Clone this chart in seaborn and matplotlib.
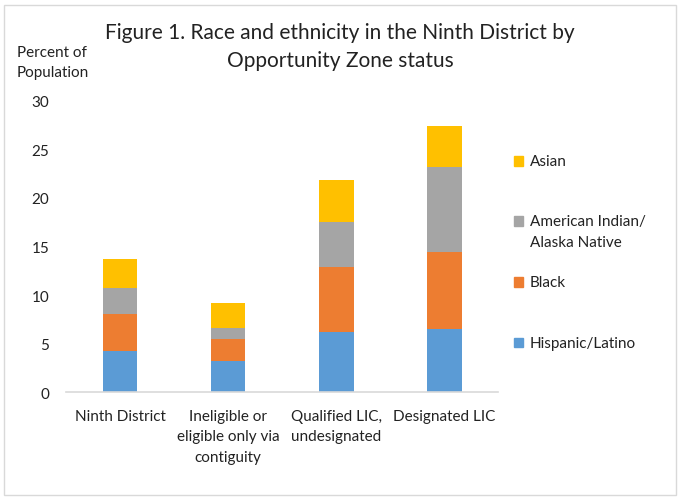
import matplotlib

matplotlib.use("Agg")
import matplotlib.pyplot as plt
import numpy as np
import pandas as pd
import seaborn as sns
from matplotlib.patches import Rectangle

# values (percent of population)
categories = [
    "Ninth District",
    "Ineligible or\neligible only via\ncontiguity",
    "Qualified LIC,\nundesignated",
    "Designated LIC",
]
hispanic = [4.2, 3.2, 6.2, 6.5]
black = [3.8, 2.25, 6.65, 7.9]
american_indian = [2.7, 1.2, 4.65, 8.8]
asian = [3.05, 2.55, 4.3, 4.2]

series = ["Hispanic/Latino", "Black", "American Indian/\nAlaska Native", "Asian"]
colors = ["#5B9BD5", "#ED7D31", "#A5A5A5", "#FFC000"]

sns.set_style("white")
plt.rcParams["font.family"] = ["Lato", "DejaVu Sans"]
text_color = "#222222"

df = pd.DataFrame({"category": categories})
stack = np.cumsum(np.array([hispanic, black, american_indian, asian]), axis=0)

fig = plt.figure(figsize=(6.8, 5.02), dpi=100)
ax = fig.add_axes([0.097, 0.217, 0.636, 0.58])

# stacked bars: draw cumulative totals from the top segment down
for i in range(len(series) - 1, -1, -1):
    df["value"] = stack[i]
    sns.barplot(data=df, x="category", y="value", color=colors[i],
                width=0.32, saturation=1, linewidth=0, ax=ax)

ax.set_ylim(0, 30)
ax.set_yticks(range(0, 31, 5))
ax.set_xlabel("")
ax.set_ylabel("")
sns.despine(ax=ax, left=True)
ax.spines["bottom"].set_color("#D9D9D9")
ax.spines["bottom"].set_linewidth(1.2)
ax.tick_params(axis="both", length=0, labelsize=11, colors=text_color)
ax.tick_params(axis="y", pad=12)
ax.tick_params(axis="x", pad=12)
for lbl in ax.get_xticklabels():
    lbl.set_linespacing(1.6)

fig.text(0.5, 0.955, "Figure 1. Race and ethnicity in the Ninth District by\nOpportunity Zone status",
         ha="center", va="top", fontsize=15, color=text_color, linespacing=1.5)
fig.text(0.025, 0.908, "Percent of\nPopulation", ha="left", va="top",
         fontsize=11, color=text_color, linespacing=1.55)

# legend, top entry first as in the original
legend_y = [161.7, 221.7, 282.7, 343.3]
for name, col, ypix in zip(series[::-1], colors[::-1], legend_y):
    yf = 1 - ypix / 502
    fig.add_artist(Rectangle((514 / 680, yf - 0.010), 0.0135, 0.0185,
                             transform=fig.transFigure, color=col))
    fig.text(530 / 680, yf + 0.013, name, ha="left", va="top",
             fontsize=11, color=text_color, linespacing=1.6)

# thin frame around the chart area
fig.add_artist(Rectangle((0.006, 0.012), 0.988, 0.976, transform=fig.transFigure,
                         fill=False, edgecolor="#D9D9D9", linewidth=1))

fig.savefig("out.png", dpi=100)
